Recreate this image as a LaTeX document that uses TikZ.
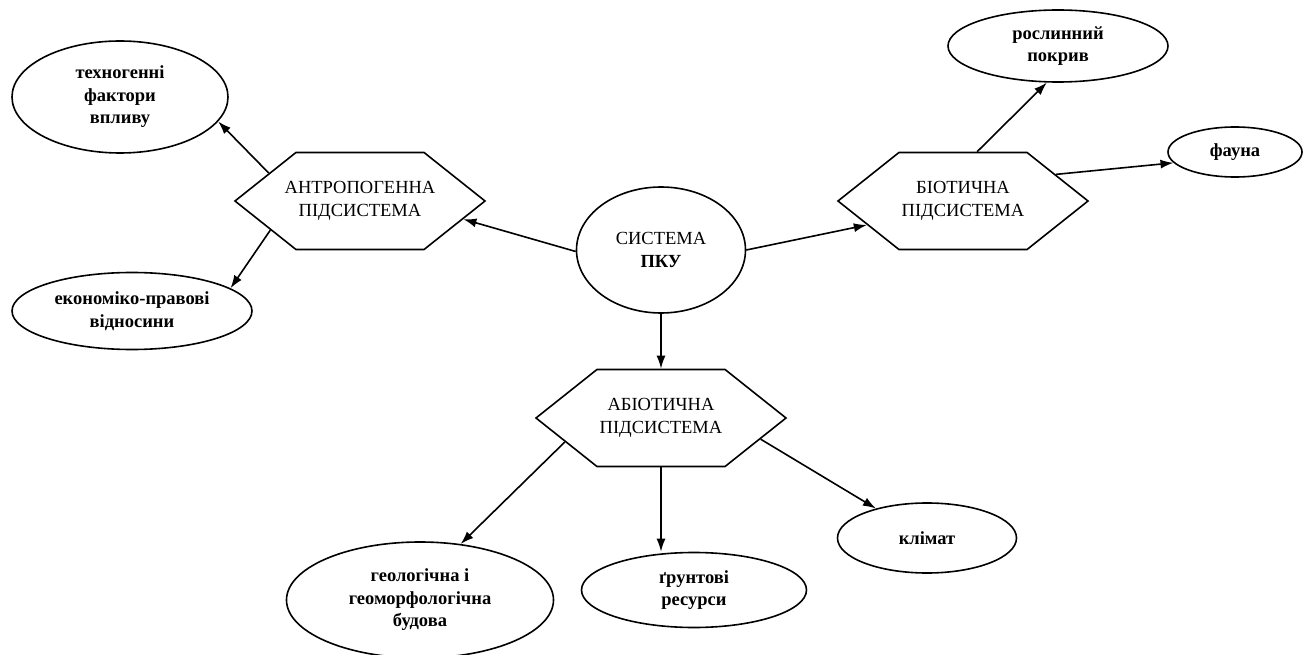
\documentclass[tikz,border=0pt]{standalone}
\usepackage{fontspec}
\setmainfont{Liberation Serif}
\usetikzlibrary{shapes.geometric,shapes.symbols,arrows.meta}
\newcommand{\dfsize}{\fontsize{18.5}{22.5}\selectfont}

\begin{document}
\begin{tikzpicture}[x=1pt,y=-1pt,
    every node/.style={align=center,inner sep=0pt,line width=1.6pt},
    ell/.style={draw,ellipse,font=\dfsize\bfseries},
    hex/.style={draw,signal,signal to=east and west,signal pointer angle=77,
      minimum width=250pt,minimum height=97pt,
      label={[font=\dfsize,align=center]center:#1}},
    arr/.style={-{Latex[length=13pt,width=9pt]},line width=1.6pt}]
   \useasboundingbox (0,0) rectangle (1304,655);
   % centre and the three subsystems
   \node[ell,minimum width=169pt,minimum height=126pt,font=\dfsize] (sys) at (661,250)
     {СИСТЕМА\\\textbf{ПКУ}};
   \node[hex={АНТРОПОГЕННА\\ПІДСИСТЕМА}] (anthro) at (360,201) {};
   \node[hex={БІОТИЧНА\\ПІДСИСТЕМА}] (bio) at (963,201) {};
   \node[hex={АБІОТИЧНА\\ПІДСИСТЕМА}] (abio) at (661,418) {};
   % components
   \node[ell,minimum width=216pt,minimum height=112pt] (tech) at (120,97)
     {техногенні\\фактори\\впливу};
   \node[ell,minimum width=240pt,minimum height=77pt] (econ) at (132,311)
     {економіко-правові\\відносини};
   \node[ell,minimum width=220pt,minimum height=72pt] (plant) at (1058,46)
     {рослинний\\покрив};
   \node[ell,minimum width=134pt,minimum height=50pt] (fauna) at (1235,152) {фауна};
   \node[ell,minimum width=267pt,minimum height=116pt] (geo) at (420,600)
     {геологічна і\\геоморфологічна\\будова};
   \node[ell,minimum width=225pt,minimum height=75pt] (soil) at (694,590)
     {ґрунтові\\ресурси};
   \node[ell,minimum width=179pt,minimum height=70pt] (clim) at (927,538) {клімат};
   % arrows
   \draw[arr] (sys.181) -- (anthro.-10.5);
   \draw[arr] (sys.east) -- (bio.194);
   \draw[arr] (sys.south) -- (abio.north);
   \draw[arr] (anthro.163) -- (tech.-14.5);
   \draw[arr] (anthro.198) -- (econ.13.6);
   \draw[arr] (bio.74) -- (plant.253);
   \draw[arr] (bio.16) -- (fauna.190);
   \draw[arr] (abio.194) -- (geo.54);
   \draw[arr] (abio.south) -- (abio.south |- soil.north);
   \draw[arr] (abio.-12.6) -- (clim.150);
\end{tikzpicture}
\end{document}
